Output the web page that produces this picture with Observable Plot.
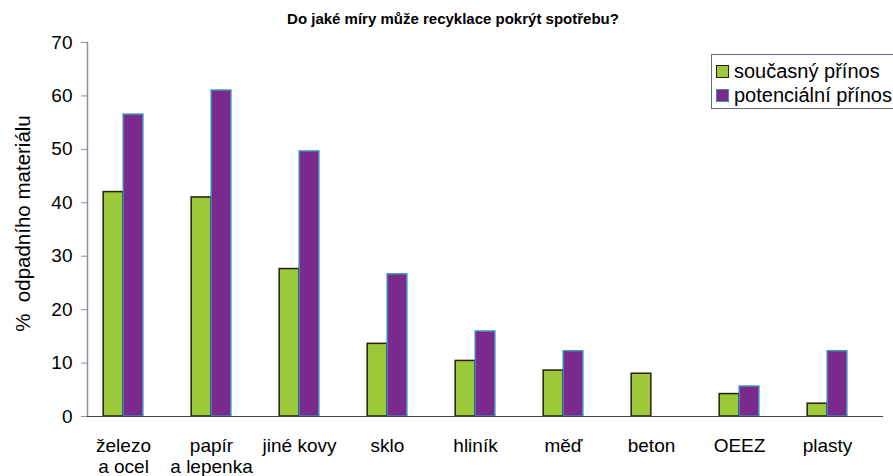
<!DOCTYPE html>
<html>
<head>
<meta charset="utf-8">
<script src="https://cdn.jsdelivr.net/npm/d3@7"></script>
<script src="https://cdn.jsdelivr.net/npm/@observablehq/plot@0.6"></script>
<style>
  html, body { margin: 0; padding: 0; background: #fff; }
  #wrap { position: relative; width: 893px; height: 476px; font-family: "Liberation Sans", Arial, sans-serif; overflow: hidden; }
  #title { position: absolute; left: 0; width: 906px; top: 10px; text-align: center; font-weight: bold; font-size: 15px; color: #000; }
  #legend { position: absolute; left: 711px; top: 54px; width: 220px; height: 53px; border: 1px solid #5b6b78; background: #fff; font-size: 20px; color: #000; }
  .row { position: absolute; left: 4px; height: 24px; display: flex; align-items: center; white-space: nowrap; }
  .sw { width: 11px; height: 11px; margin-right: 5px; }
</style>
</head>
<body>
<div id="wrap">
  <div id="chart"></div>
  <div id="title">Do jaké míry může recyklace pokrýt spotřebu?</div>
  <div id="legend"></div>
</div>
<script>
const categories = ["železo a ocel", "papír a lepenka", "jiné kovy", "sklo", "hliník", "měď", "beton", "OEEZ", "plasty"];
const tickLabels = ["železo\na ocel", "papír\na lepenka", "jiné kovy", "sklo", "hliník", "měď", "beton", "OEEZ", "plasty"];
const seriesNames = ["současný přínos", "potenciální přínos"];
const current = [42, 41, 27.6, 13.6, 10.4, 8.6, 8.0, 4.2, 2.4];
const potential = [56.5, 61, 49.6, 26.6, 15.9, 12.2, null, 5.6, 12.2];
const yTicks = [0, 10, 20, 30, 40, 50, 60, 70];
const yLabel = "%\u00a0 odpadního materiálu";

const green = "#9bc93a", greenStroke = "#2a1c0c";
const purple = "#7b2a8c", purpleStroke = "#3a8db5";

const curData = categories.map((c, i) => ({cat: c, value: current[i]}));
const potData = categories.map((c, i) => ({cat: c, value: potential[i]})).filter(d => d.value != null);

const W = 893, H = 476;
const mL = 87, mR = 10, mT = 42, mB = 60;
const xRange = [77, 872];
const half = (xRange[1] - xRange[0]) / categories.length / 2;
const barW = 20;

const chart = Plot.plot({
  width: W, height: H,
  marginLeft: mL, marginRight: mR, marginTop: mT, marginBottom: mB,
  style: {fontFamily: "Liberation Sans, Arial, sans-serif", background: "#fff"},
  x: {domain: categories, range: xRange, padding: 0, label: null},
  y: {domain: [0, 70], label: null},
  marks: [
    Plot.barY(curData, {x: "cat", y: "value", fill: green, stroke: greenStroke, strokeWidth: 1.5,
      insetLeft: half - barW, insetRight: half}),
    Plot.barY(potData, {x: "cat", y: "value", fill: purple, stroke: purpleStroke, strokeWidth: 1.5,
      insetLeft: half, insetRight: half - barW}),
    Plot.frame({anchor: "left", stroke: "#8a90a0", strokeWidth: 1.5}),
    Plot.ruleY([0], {stroke: "#4a4a4a", strokeWidth: 1.2}),
    Plot.axisY({ticks: yTicks, tickSize: 6, tickPadding: 9, fontSize: 19, stroke: "#8a90a0", label: null}),
    Plot.axisX({tickSize: 0, tickPadding: 21, fontSize: 19, lineHeight: 1.1, label: null,
      tickFormat: (d) => tickLabels[categories.indexOf(d)]}),
    Plot.text([yLabel], {frameAnchor: "left", textAnchor: "middle", dx: -64, dy: -6, rotate: -90, fontSize: 20.5, fill: "#000"})
  ]
});
document.getElementById("chart").appendChild(chart);

const legend = document.getElementById("legend");
[[seriesNames[0], green, greenStroke, 4], [seriesNames[1], purple, purpleStroke, 28]].forEach(([name, f, s, top]) => {
  const row = document.createElement("div");
  row.className = "row";
  row.style.top = top + "px";
  const sw = document.createElement("div");
  sw.className = "sw";
  sw.style.background = f;
  sw.style.border = "1.5px solid " + s;
  row.appendChild(sw);
  const t = document.createElement("span");
  t.textContent = name;
  row.appendChild(t);
  legend.appendChild(row);
});
</script>
</body>
</html>
